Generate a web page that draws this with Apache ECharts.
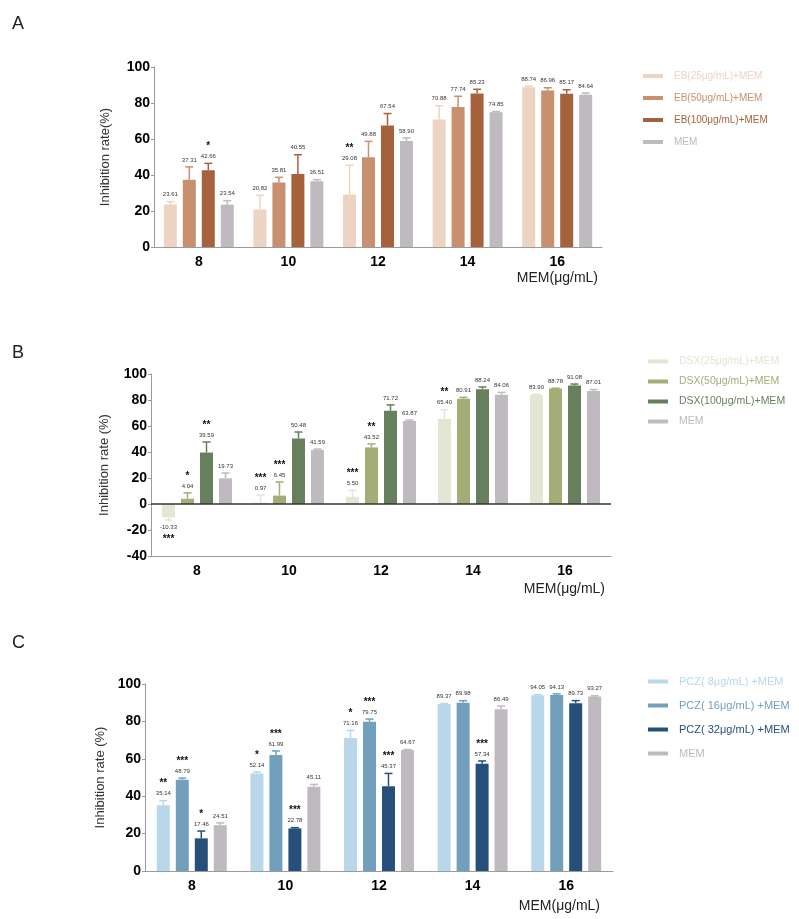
<!DOCTYPE html>
<html>
<head>
<meta charset="utf-8">
<script src="https://cdn.jsdelivr.net/npm/echarts@6/dist/echarts.min.js"></script>
<style>
  html, body { margin: 0; padding: 0; background: #fff; }
  #chart { width: 799px; height: 919px; }
</style>
</head>
<body>
<div id="chart"></div>
<script>
var FONT = 'Arial, "Liberation Sans", sans-serif';

var doses = ['8', '10', '12', '14', '16'];

// panel A - EB
var ebNames = ['EB(25μg/mL)+MEM', 'EB(50μg/mL)+MEM', 'EB(100μg/mL)+MEM', 'MEM'];
var ebLow = [23.61, 20.82, 29.08, 70.88, 88.74];
var ebMid = [37.31, 35.81, 49.88, 77.74, 86.96];
var ebHigh = [42.66, 40.55, 67.54, 85.23, 85.17];
var memA = [23.54, 36.51, 58.90, 74.85, 84.64];
var ebLowErr = [1.6, 7.9, 16.3, 7.6, 0.6];
var ebMidErr = [7.2, 2.9, 8.8, 6.0, 1.5];
var ebHighErr = [3.8, 10.7, 6.6, 2.4, 2.2];
var memAErr = [2.2, 0.9, 1.7, 0.4, 0.9];
var ebLowSig = ['', '', '**', '', ''];
var ebMidSig = ['', '', '', '', ''];
var ebHighSig = ['*', '', '', '', ''];
var memASig = ['', '', '', '', ''];

// panel B - DSX
var dsxNames = ['DSX(25μg/mL)+MEM', 'DSX(50μg/mL)+MEM', 'DSX(100μg/mL)+MEM', 'MEM'];
var dsxLow = [-10.33, 0.97, 5.50, 65.40, 83.90];
var dsxMid = [4.04, 6.45, 43.52, 80.91, 88.78];
var dsxHigh = [39.59, 50.48, 71.72, 88.24, 91.08];
var memB = [19.73, 41.59, 63.87, 84.06, 87.01];
var dsxLowErr = [2.0, 5.9, 5.0, 7.2, 0.5];
var dsxMidErr = [4.5, 10.5, 2.7, 1.1, 0.3];
var dsxHighErr = [8.1, 4.9, 4.5, 1.8, 1.2];
var memBErr = [4.1, 0.7, 0.7, 1.8, 1.0];
var dsxLowSig = ['***', '***', '***', '**', ''];
var dsxMidSig = ['*', '***', '**', '', ''];
var dsxHighSig = ['**', '', '', '', ''];
var memBSig = ['', '', '', '', ''];

// panel C - PCZ
var pczNames = ['PCZ( 8μg/mL) +MEM', 'PCZ( 16μg/mL) +MEM', 'PCZ( 32μg/mL) +MEM', 'MEM'];
var pczLow = [35.14, 52.14, 71.16, 89.37, 94.05];
var pczMid = [48.79, 61.99, 79.75, 89.98, 94.13];
var pczHigh = [17.46, 22.78, 45.37, 57.34, 89.73];
var memC = [24.51, 45.11, 64.67, 86.49, 93.27];
var pczLowErr = [2.5, 0.8, 4.0, 0.2, 0.2];
var pczMidErr = [0.9, 2.2, 1.5, 1.1, 0.6];
var pczHighErr = [3.9, 0.4, 6.8, 1.5, 1.4];
var memCErr = [1.2, 1.2, 0.3, 1.7, 0.4];
var pczLowSig = ['**', '*', '*', '', ''];
var pczMidSig = ['***', '***', '***', '', ''];
var pczHighSig = ['*', '***', '***', '***', ''];
var memCSig = ['', '', '', '', ''];

var panels = [
    {
        names: ebNames,
        colors: ['#EDD3C2', '#C8906F', '#A6623D', '#BEBABF'],
        values: [ebLow, ebMid, ebHigh, memA],
        errs: [ebLowErr, ebMidErr, ebHighErr, memAErr],
        sigs: [ebLowSig, ebMidSig, ebHighSig, memASig],
        yMin: 0, yName: 'Inhibition rate(%)', nameGap: 42,
        grid: { left: 154, top: 67, width: 448, height: 180 },
        legend: { left: 638, top: 66, itemGap: 12, fontSize: 10 }
    },
    {
        names: dsxNames,
        colors: ['#E2E6D3', '#A2AE76', '#667F5C', '#BEBABF'],
        values: [dsxLow, dsxMid, dsxHigh, memB],
        errs: [dsxLowErr, dsxMidErr, dsxHighErr, memBErr],
        sigs: [dsxLowSig, dsxMidSig, dsxHighSig, memBSig],
        yMin: -40, yName: 'Inhibition rate (%)', nameGap: 40,
        grid: { left: 151, top: 374, width: 460, height: 182 },
        legend: { left: 643, top: 351, itemGap: 9, fontSize: 10.5 }
    },
    {
        names: pczNames,
        colors: ['#B8D7EA', '#72A0BC', '#26507A', '#BEBABF'],
        values: [pczLow, pczMid, pczHigh, memC],
        errs: [pczLowErr, pczMidErr, pczHighErr, memCErr],
        sigs: [pczLowSig, pczMidSig, pczHighSig, memCSig],
        yMin: 0, yName: 'Inhibition rate (%)', nameGap: 33,
        grid: { left: 145, top: 684, width: 468, height: 187 },
        legend: { left: 643, top: 671, itemGap: 13, fontSize: 11 }
    }
];

// error bar + value label + stars for one bar slot of a group
let errRender = (slot, vals, errs, sigs, color) => {
    return function (params, api) {
        var i = params.dataIndex;
        var v = vals[i];
        var e = errs[i];
        var off = (slot - 1.5) * 19;
        var base = api.coord([i, v]);
        var tip = api.coord([i, v < 0 ? v - e : v + e]);
        var x = base[0] + off;
        var dir = v < 0 ? 1 : -1;
        var labelY = tip[1] + dir * 7;
        var starY = labelY + dir * 12;
        var kids = [
            { type: 'line', shape: { x1: x, y1: base[1], x2: x, y2: tip[1] }, style: { stroke: color, lineWidth: 1.5 } },
            { type: 'line', shape: { x1: x - 4, y1: tip[1], x2: x + 4, y2: tip[1] }, style: { stroke: color, lineWidth: 1.5 } },
            { type: 'text', style: { text: v.toFixed(2), x: x, y: labelY, align: 'center', verticalAlign: 'middle', fontSize: 6, fontFamily: FONT, fill: '#333' } }
        ];
        if (sigs[i]) {
            kids.push({ type: 'text', style: { text: sigs[i], x: x, y: starY + (v < 0 ? 0 : 2), align: 'center', verticalAlign: 'middle', fontSize: 10, fontWeight: 'bold', fontFamily: FONT, fill: '#111' } });
        }
        return { type: 'group', children: kids };
    };
};

var option = {
    animation: false,
    textStyle: { fontFamily: FONT },
    grid: [],
    xAxis: [],
    yAxis: [],
    legend: [],
    series: [],
    graphic: []
};

panels.forEach((p, k) => {
    option.grid.push(p.grid);
    option.xAxis.push({
        type: 'category',
        gridIndex: k,
        data: doses,
        axisLine: { onZero: false, lineStyle: { color: '#9a9a9a', width: 1 } },
        axisTick: { alignWithLabel: true, length: 4, lineStyle: { color: '#9a9a9a' } },
        axisLabel: { fontSize: 14, fontWeight: 'bold', color: '#000', margin: 8 },
        splitLine: { show: false }
    });
    option.yAxis.push({
        type: 'value',
        gridIndex: k,
        min: p.yMin,
        max: 100,
        interval: 20,
        name: p.yName,
        nameLocation: 'middle',
        nameGap: p.nameGap,
        nameTextStyle: { fontSize: 13, color: '#333' },
        axisLine: { show: true, lineStyle: { color: '#9a9a9a', width: 1 } },
        axisTick: { show: true, length: 3, lineStyle: { color: '#9a9a9a' } },
        axisLabel: { fontSize: 14, fontWeight: 'bold', color: '#000', margin: 4 },
        splitLine: { show: false }
    });
    option.legend.push({
        orient: 'vertical',
        left: p.legend.left,
        top: p.legend.top,
        itemGap: p.legend.itemGap,
        itemWidth: 20,
        itemHeight: 4,
        icon: 'rect',
        selectedMode: false,
        textStyle: { fontSize: p.legend.fontSize, padding: [0, 0, 0, 6] },
        data: p.names.map((n, j) => ({ name: n, textStyle: { color: p.colors[j] } }))
    });
    p.values.forEach((vals, j) => {
        var s = {
            name: p.names[j],
            type: 'bar',
            xAxisIndex: k,
            yAxisIndex: k,
            data: vals,
            barWidth: 13,
            barGap: '46%',
            itemStyle: { color: p.colors[j] }
        };
        if (p.yMin < 0 && j == 0) {
            s.markLine = {
                silent: true,
                symbol: 'none',
                label: { show: false },
                lineStyle: { color: '#333', width: 1.5, type: 'solid' },
                data: [{ yAxis: 0 }]
            };
        }
        option.series.push(s);
    });
    p.values.forEach((vals, j) => {
        option.series.push({
            type: 'custom',
            xAxisIndex: k,
            yAxisIndex: k,
            z: 3,
            data: vals.map((v, i) => [i, v, p.errs[j][i]]),
            encode: { x: 0, y: 1 },
            renderItem: errRender(j, vals, p.errs[j], p.sigs[j], p.colors[j])
        });
    });
});

// panel letters and x axis titles
var letters = [['A', 15], ['B', 344], ['C', 634]];
letters.forEach(l => {
    option.graphic.push({ type: 'text', left: 12, top: l[1], style: { text: l[0], fontSize: 18, fontFamily: FONT, fill: '#222' } });
});
var xTitles = [[598, 271], [605, 582], [600, 899]];
xTitles.forEach(t => {
    option.graphic.push({ type: 'text', right: 799 - t[0], top: t[1], style: { text: 'MEM(μg/mL)', fontSize: 14, fontFamily: FONT, fill: '#222' } });
});

var chart = echarts.init(document.getElementById('chart'), null, { renderer: 'canvas' });
chart.setOption(option);
</script>
</body>
</html>
